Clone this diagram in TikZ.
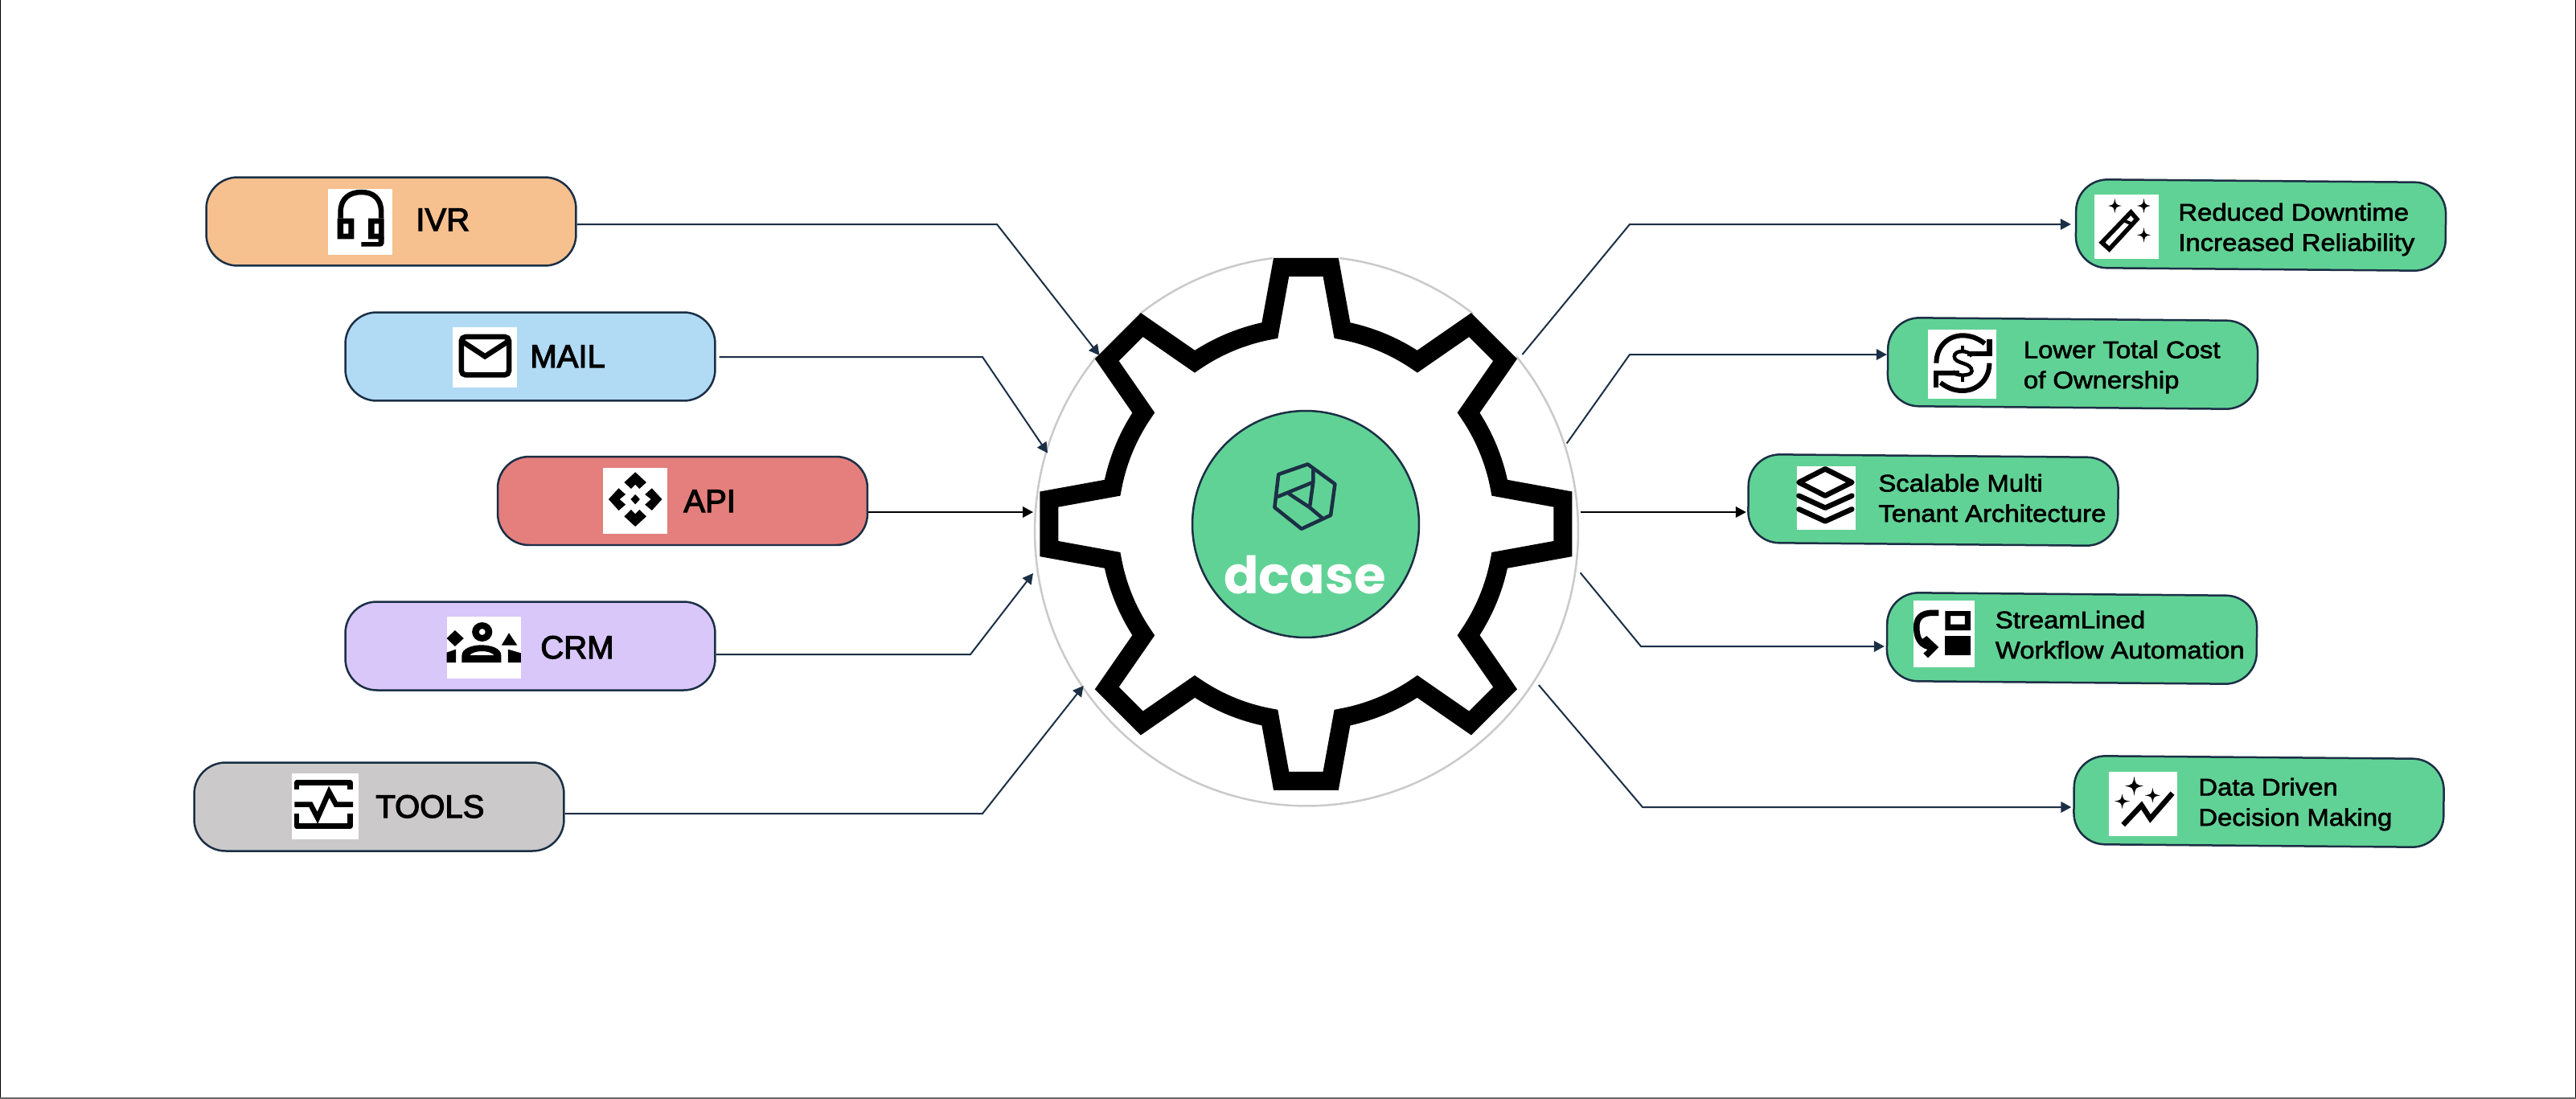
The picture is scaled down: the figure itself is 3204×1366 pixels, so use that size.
\documentclass[tikz,border=0pt]{standalone}
\usepackage{fontspec}
\usetikzlibrary{arrows.meta,calc,shapes.geometric}
\setmainfont{Liberation Sans}
\newfontfamily\biglab[FakeBold=3]{Liberation Sans}
\newfontfamily\smalllab[FakeBold=2.2,FakeStretch=1.1]{Liberation Sans}
\newfontfamily\logofont{Poppins}
\definecolor{navy}{HTML}{1B2F45}
\definecolor{cIVR}{HTML}{F6C08F}
\definecolor{cMAIL}{HTML}{B1DAF5}
\definecolor{cAPI}{HTML}{E47F7D}
\definecolor{cCRM}{HTML}{D9C7FA}
\definecolor{cTOOLS}{HTML}{CBC9CA}
\definecolor{cGreen}{HTML}{61D295}
\definecolor{ringgray}{HTML}{CACACA}
\tikzset{
  boxbase/.style={draw=navy,line width=0.05cm,rectangle,rounded corners=0.78cm,minimum width=9.2cm,minimum height=2.2cm,inner sep=0pt},
  greenbox/.style={boxbase,fill=cGreen,rotate=-0.5},
  biglabel/.style={anchor=base west,inner sep=0pt,font=\biglab\fontsize{22.8}{27}\selectfont,text=black},
  smalllabel/.style={anchor=base west,inner sep=0pt,align=left,font=\smalllab\fontsize{17}{21.4}\selectfont,text=black},
  conn/.style={draw=navy,line width=0.04cm},
  arrowed/.style={conn,-{Triangle[length=0.26cm,width=0.27cm]}},
  icon/.style={line width=0.13cm,draw=black,line join=miter},
  z2/.style={shift={(220,200)},x=0.011481cm,y=-0.006667cm},
  z3/.style={shift={(220,680)},x=0.011481cm,y=-0.006667cm},
  z4/.style={shift={(2160,200)},x=0.011481cm,y=-0.006667cm},
  z5/.style={shift={(2160,680)},x=0.011481cm,y=-0.006667cm},
  z1/.style={shift={(1240,280)},x=0.009695cm,y=-0.009695cm},
}
\newcommand{\sparkle}[4]{%
  \fill[black] (#1,#2-#4) .. controls (#1+0.15*#3,#2-0.15*#4) .. (#1+#3,#2)
     .. controls (#1+0.15*#3,#2+0.15*#4) .. (#1,#2+#4)
     .. controls (#1-0.15*#3,#2+0.15*#4) .. (#1-#3,#2)
     .. controls (#1-0.15*#3,#2-0.15*#4) .. cycle;}
\begin{document}
\begin{tikzpicture}[x=0.02cm,y=-0.02cm]
\useasboundingbox (0,0) rectangle (3204,1366);
\fill[white] (0,0) rectangle (3204,1366);
\draw[black,line width=0.05cm] (0,0) -- (0,1366) (3204,1366) -- (3204,0);
\draw[black!60,line width=0.05cm] (0,1366) -- (3204,1366);

% ring and gear
\node[draw=ringgray,line width=0.05cm,ellipse,minimum width=13.52cm,minimum height=13.68cm,inner sep=0pt] (ring) at (1625,660.5) {};
\begin{scope}[z1]
\draw[white,line width=0.18cm] (708,80) -- (880,80) (258,338) -- (368,230) (1220,230) -- (1332,338);
\end{scope}
\begin{scope}[shift={(1624.4,651.8)}]
\draw[line width=0.46cm,line join=miter,draw=black,miter limit=10] (100.6:245)
  \foreach \a in {90,45,0,-45,-90,-135,-180,-225} {
    -- ({\a+5.5}:321) -- ({\a-5.5}:321) -- ({\a-10.6}:245)
    arc[start angle={\a-10.6},end angle={\a-34.4},radius=245]
  } -- cycle;
\end{scope}
\node[draw=navy,fill=cGreen,line width=0.05cm,circle,minimum size=5.64cm,inner sep=0pt] (hub) at (1624,652) {};
\begin{scope}[z1]
\draw[navy,line width=0.09cm,line join=round] (798,614) -- (868,665) -- (857,745) -- (782,780) -- (713,725) -- (723,640) -- cycle;
\draw[navy,line width=0.09cm,line join=round,line cap=round] (722,697) -- (812,660) -- (803,725) -- (750,690) (812,630) -- (812,660) (803,725) -- (835,752);
\end{scope}
\node[anchor=base,inner sep=0pt,text=white,font=\logofont\bfseries\fontsize{36.5}{40}\selectfont] (dcase) at (1623,738) {dcase};

% input boxes
\node[boxbase,fill=cIVR] (ivr) at (486.5,275.5) {};
\node[boxbase,fill=cMAIL] (mail) at (659.5,443.5) {};
\node[boxbase,fill=cAPI] (api) at (849,623) {};
\node[boxbase,fill=cCRM] (crm) at (659.5,803.5) {};
\node[boxbase,fill=cTOOLS] (tools) at (471.5,1003.5) {};
% output boxes
\node[greenbox] (r1) at (2812,280) {};
\node[greenbox] (r2) at (2578,452) {};
\node[greenbox] (r3) at (2404.5,622) {};
\node[greenbox] (r4) at (2577,794) {};
\node[greenbox] (r5) at (2809.5,997) {};

% icon plates
\fill[white] (408,235) rectangle (488,317);
\fill[white] (563,407) rectangle (643,482);
\fill[white] (750,582) rectangle (830,664);
\fill[white] (556,767) rectangle (648,844);
\fill[white] (363,962) rectangle (446,1044);
\fill[white] (2605,242) rectangle (2685,322);
\fill[white] (2398,410) rectangle (2483,496);
\fill[white] (2235,580) rectangle (2307.5,659);
\fill[white] (2380,747) rectangle (2456,830);
\fill[white] (2623,960) rectangle (2708,1040);

% IVR headset
\begin{scope}[z2]
\draw[icon] (355,215) -- (355,190) .. controls (355,140) and (375,117) .. (400,117) .. controls (425,117) and (443,140) .. (443,190) -- (443,215);
\fill[black,even odd rule] (348,215) rectangle (384,292) (361,235) rectangle (372,272);
\fill[black,even odd rule] (415,215) rectangle (449,292) (428,235) rectangle (438,272);
\fill[black] (400,303) -- (437,303) -- (437,285) -- (449,285) -- (449,308) .. controls (449,316) and (445,320) .. (438,320) -- (400,320) -- cycle;
% mail
\draw[icon,rounded corners=0.1cm] (617,657) rectangle (720,799);
\draw[icon] (617,672) -- (668,730) -- (720,672);
% api
\fill[black] (994,1162) -- (1018,1200) -- (1003,1224) -- (994,1208) -- (985,1224) -- (970,1200) -- cycle;
\fill[black] (994,1365) -- (1018,1327) -- (1003,1302) -- (994,1318) -- (985,1302) -- (970,1327) -- cycle;
\fill[black] (936,1263) -- (958,1222) -- (973,1245) -- (960,1263) -- (973,1283) -- (958,1305) -- cycle;
\fill[black] (1052,1263) -- (1030,1222) -- (1015,1245) -- (1028,1263) -- (1015,1283) -- (1030,1305) -- cycle;
\fill[black] (994,1245) -- (1004,1263) -- (994,1282) -- (984,1263) -- cycle;
\end{scope}
% crm and tools
\begin{scope}[z3]
\fill[black,even odd rule] (662,318) ellipse [x radius=22,y radius=36] (662,318) ellipse [x radius=7,y radius=12];
\fill[black] (603,312) -- (622,342) -- (603,372) -- (585,342) -- cycle;
\fill[black] (720,322) -- (738,368) -- (704,368) -- cycle;
\fill[black,even odd rule] (618,432) -- (618,405) .. controls (618,380) and (640,367) .. (660,367) .. controls (682,367) and (703,380) .. (703,405) -- (703,432) -- cycle
   (635,405) .. controls (645,385) and (678,385) .. (688,405) -- cycle;
\fill[black] (585,432) -- (585,395) -- (605,383) -- (605,432) -- cycle;
\fill[black] (746,432) -- (746,397) -- (718,383) -- (718,432) -- cycle;
\draw[icon,line join=round] (260,905) -- (260,880) -- (376,880) -- (376,905);
\draw[icon,line join=round] (260,995) -- (260,1043) -- (376,1043) -- (376,995);
\draw[icon] (255,962) -- (290,962) -- (305,1012) -- (330,915) -- (345,962) -- (382,962);
\end{scope}
% output icons upper
\begin{scope}[z4]
\sparkle{820}{168}{15}{28}
\sparkle{883}{168}{15}{28}
\sparkle{883}{277}{15}{28}
\draw[icon,line width=0.11cm] (855,192) -- (868,218) -- (808,330) -- (792,305) -- cycle;
\draw[icon,line width=0.08cm] (838,222) -- (860,238);
% dollar cycle
\draw[icon,line width=0.12cm] (433,755) .. controls (433,690) and (460,652) .. (490,652) .. controls (510,652) and (525,665) .. (538,682);
\draw[icon,line width=0.12cm] (548,755) .. controls (548,820) and (520,858) .. (490,858) .. controls (470,858) and (455,845) .. (442,828);
\draw[icon] (548,665) -- (548,720) -- (500,720);
\draw[icon] (432,847) -- (432,792) -- (482,792);
\draw[icon,line width=0.09cm] (510,730) .. controls (505,705) and (472,705) .. (472,730) .. controls (472,760) and (510,750) .. (510,785) .. controls (510,805) and (472,805) .. (468,785);
\draw[icon,line width=0.09cm] (490,690) -- (490,712) (490,800) -- (490,825);
% layers
\draw[icon,line join=round,line cap=round] (192,1150) -- (250,1200) -- (192,1250) -- (135,1200) -- cycle;
\draw[icon,line join=round,line cap=round] (135,1250) -- (192,1295) -- (250,1250);
\draw[icon,line join=round,line cap=round] (135,1300) -- (192,1345) -- (250,1300);
\end{scope}
\begin{scope}[z5]
\draw[black,line width=0.15cm] (438,247) -- (425,247) .. controls (398,247) and (390,270) .. (390,300) .. controls (390,345) and (400,372) .. (425,376);
\fill[black] (412,333) -- (438,375) -- (415,415) -- (405,398) -- (420,375) -- (400,348) -- cycle;
\fill[black,even odd rule] (452,240) rectangle (507,312) (464,258) rectangle (495,290);
\fill[black] (452,333) rectangle (507,405);
\sparkle{862}{893}{20}{36}
\sparkle{902}{928}{17}{28}
\sparkle{836}{950}{17}{28}
\draw[icon] (838,1038) -- (878,965) -- (897,1015) -- (945,920);
\end{scope}

% labels
\node[biglabel] (tivr) at (517,287) {IVR};
\node[biglabel] (tmail) at (659,457) {MAIL};
\node[biglabel] (tapi) at (850,637) {API};
\node[biglabel] (tcrm) at (672,819) {CRM};
\node[biglabel] (ttools) at (467,1017) {TOOLS};
\node[smalllabel] (t1) at (2709,312) {Reduced Downtime\\Increased Reliability};
\node[smalllabel] (t2) at (2516.5,483) {Lower Total Cost\\of Ownership};
\node[smalllabel] (t3) at (2336,649) {Scalable Multi\\Tenant Architecture};
\node[smalllabel] (t4) at (2481.5,819) {StreamLined\\Workflow Automation};
\node[smalllabel] (t5) at (2734,1027) {Data Driven\\Decision Making};

% connector joints
\coordinate (b1) at (1240,279); \coordinate (e1) at (1367.5,442);
\coordinate (b2) at (1222,444); \coordinate (e2) at (1303,563.6);
\coordinate (y3) at (1200,637); \coordinate (e3) at (1285,637);
\coordinate (b4) at (1207,814); \coordinate (e4) at (1285,713);
\coordinate (b5) at (1222,1012); \coordinate (e5) at (1347.6,853);
\coordinate (s6) at (1893.4,441); \coordinate (b6) at (2027,279);
\coordinate (s7) at (1948.7,551.5); \coordinate (b7) at (2027,441);
\coordinate (s8) at (1965.6,637);
\coordinate (s9) at (1965.6,712.4); \coordinate (b9) at (2041,804);
\coordinate (s10) at (1913.8,852); \coordinate (b10) at (2043,1004);

\draw[arrowed] (ivr.east |- b1) -- (b1) -- (e1);
\draw[arrowed,shorten <=0.08cm] (mail.east |- b2) -- (b2) -- (e2);
\draw[arrowed,draw=black] (api.east |- y3) -- (e3);
\draw[arrowed] (crm.east |- b4) -- (b4) -- (e4);
\draw[arrowed] (tools.east |- b5) -- (b5) -- (e5);
\draw[arrowed,shorten >=0.1cm] (s6) -- (b6) -- (r1.west |- b6);
\draw[arrowed] (s7) -- (b7) -- (r2.west |- b7);
\draw[arrowed,shorten >=0.03cm,draw=black] (s8) -- (r3.west |- s8);
\draw[arrowed,shorten >=0.04cm] (s9) -- (b9) -- (r4.west |- b9);
\draw[arrowed,shorten >=0.04cm] (s10) -- (b10) -- (r5.west |- b10);
\end{tikzpicture}
\end{document}
